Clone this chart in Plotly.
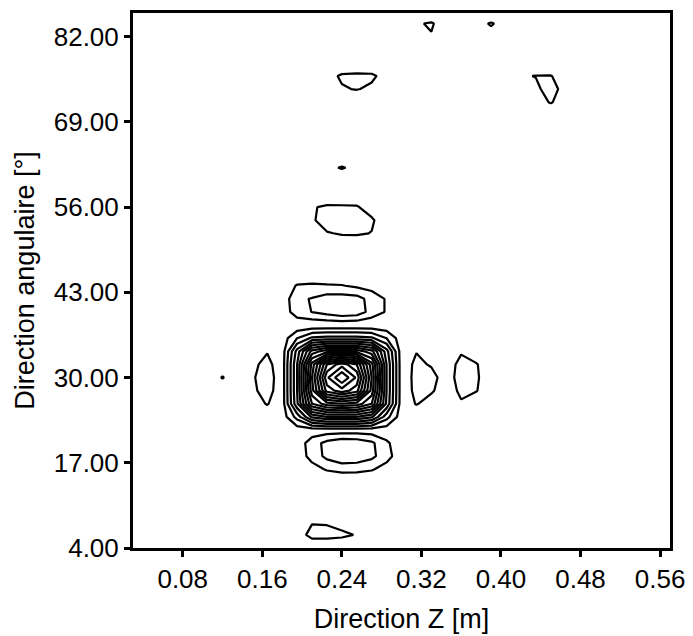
import plotly.graph_objects as go

# Grid coordinates (Direction Z [m], Direction angulaire [deg])
x_grid = [0.030, 0.045, 0.060, 0.075, 0.090, 0.105, 0.120, 0.135, 0.150, 0.165,
          0.180, 0.195, 0.210, 0.225, 0.240, 0.255, 0.270, 0.285, 0.300,
          0.315, 0.330, 0.345, 0.360, 0.375, 0.390, 0.405, 0.420, 0.435, 0.450, 0.465,
          0.480, 0.495, 0.510, 0.525, 0.540, 0.555, 0.570]
y_grid = [4, 6, 8, 10, 12, 14, 16, 18, 20, 22, 24, 26, 28, 30, 32, 34, 36, 38, 40, 42,
          44, 46, 48, 50, 52, 54, 56, 58, 60, 62, 64, 66, 68, 70, 72, 74, 76, 78, 80, 82,
          84, 86]

ZR = "0 0 0 0 0 0 0 0 0 0 | 0 0 0 0 0 0 0 0 0 | 0 0 0 0 0 0 0 0 0 0 0 | 0 0 0 0 0 0 0"
# Intensity values (%) row by row, from y = 4 to y = 86
z_rows = [
    "0 0 0 0 0 0 0 0 0 0 | 0 0 0 0 1 1 0 0 0 | 0 0 0 0 0 0 0 0 0 0 0 | 0 0 0 0 0 0 0",
    "0 0 0 0 0 0 0 0 0 0 | 0 2 7 7 6 4.7 1 0 0 | 0 0 0 0 0 0 0 0 0 0 0 | 0 0 0 0 0 0 0",
    "0 0 0 0 0 0 0 0 0 0 | 0 2 4.5 4.3 3 2 0 0 0 | 0 0 0 0 0 0 0 0 0 0 0 | 0 0 0 0 0 0 0",
    ZR,
    ZR,
    ZR,
    "0 0 0 0 0 0 0 0 0 0 | 0 1 3 5.5 6.7 6.5 5.5 3 1 | 0 0 0 0 0 0 0 0 0 0 0 | 0 0 0 0 0 0 0",
    "0 0 0 0 0 0 0 0 0 0 | 0 2 6.8 11.4 14 13.5 11.3 6.8 2 | 0 0 0 0 0 0 0 0 0 0 0 | 0 0 0 0 0 0 0",
    "0 0 0 0 0 0 0 0 0 0 | 0 2 7.5 11.6 13.8 13.3 11 5.8 2 | 0 0 0 0 0 0 0 0 0 0 0 | 0 0 0 0 0 0 0",
    "0 0 0 0 0 0 0 0 0 0 | 1 2 2 2 2 2 2 2 1 | 0 0 0 0 0 0 0 0 0 0 0 | 0 0 0 0 0 0 0",
    "0 0 0 0 0 0 0 0 0 2 | 2 12 26 30 30 30 26 12 2 | 1.5 0 0 0 0 0 0 0 0 0 0 | 0 0 0 0 0 0 0",
    "0 0 0 0 0 0 0 0 3 5.3 | 2 24 50 58 60 58 50 24 2 | 5.3 3 2.5 4.5 2 0 0 0 0 0 0 | 0 0 0 0 0 0 0",
    "0 0 0 0 0 0 2 0 4 7 | 2 25 58 82 88 82 58 25 2 | 6.3 5.6 2.5 6 5.3 2 0 0 0 0 0 | 0 0 0 0 0 0 0",
    "0 0 0 0 0 2 5.3 2 4.4 7.5 | 2 25 60 89 100 89 60 25 2 | 6.5 6.8 2.5 7.2 5.75 2 0 0 0 0 0 | 0 0 0 0 0 0 0",
    "0 0 0 0 0 0 2 0 3.9 6.5 | 2 25 57 80 88 80 57 25 2 | 6.2 4.5 2.5 6.5 5.4 2 0 0 0 0 0 | 0 0 0 0 0 0 0",
    "0 0 0 0 0 0 0 0 2 4.7 | 2 22 42 48 48 48 42 22 2 | 4.8 2 2 4.5 2 0 0 0 0 0 0 | 0 0 0 0 0 0 0",
    "0 0 0 0 0 0 0 0 0 2 | 2 10 16 17 17 17 16 10 2 | 0 0 0 0 0 0 0 0 0 0 0 | 0 0 0 0 0 0 0",
    "0 0 0 0 0 0 0 0 0 0 | 1 1 1 1 1 1 1 1 1 | 0 0 0 0 0 0 0 0 0 0 0 | 0 0 0 0 0 0 0",
    "0 0 0 0 0 0 0 0 0 0 | 1.5 8 10.1 12 14 13 8 4.5 1 | 0 0 0 0 0 0 0 0 0 0 0 | 0 0 0 0 0 0 0",
    "0 0 0 0 0 0 0 0 0 0 | 1.5 9 10.3 12.4 12.5 12 8 4.5 1 | 0 0 0 0 0 0 0 0 0 0 0 | 0 0 0 0 0 0 0",
    "0 0 0 0 0 0 0 0 0 0 | 1 5.5 6 5.6 5.3 4 3 1.5 0 | 0 0 0 0 0 0 0 0 0 0 0 | 0 0 0 0 0 0 0",
    ZR,
    ZR,
    ZR,
    "0 0 0 0 0 0 0 0 0 0 | 0 0 2 4.5 5.7 5.8 4.8 1 0 | 0 0 0 0 0 0 0 0 0 0 0 | 0 0 0 0 0 0 0",
    "0 0 0 0 0 0 0 0 0 0 | 0 0 4 8.3 9 8 5.9 1 0 | 0 0 0 0 0 0 0 0 0 0 0 | 0 0 0 0 0 0 0",
    "0 0 0 0 0 0 0 0 0 0 | 0 0 4.5 5.9 5.8 5.6 2 0 0 | 0 0 0 0 0 0 0 0 0 0 0 | 0 0 0 0 0 0 0",
    ZR,
    ZR,
    "0 0 0 0 0 0 0 0 0 0 | 0 0 0 3.5 5.5 3.5 0 0 0 | 0 0 0 0 0 0 0 0 0 0 0 | 0 0 0 0 0 0 0",
    ZR,
    ZR,
    ZR,
    ZR,
    "0 0 0 0 0 0 0 0 0 0 | 0 0 0 0 0 0 0 0 0 | 0 0 0 0 0 0 0 0 2 5.5 2 | 0 0 0 0 0 0 0",
    "0 0 0 0 0 0 0 0 0 0 | 0 0 0 1 4.5 5.3 4 0 0 | 0 0 0 0 0 0 0 2 4 7 3 | 0 0 0 0 0 0 0",
    "0 0 0 0 0 0 0 0 0 0 | 0 0 0 3 5.8 6.2 6 3 0 | 0 0 0 0 0 0 0 4.5 5.15 5.2 3 | 0 0 0 0 0 0 0",
    ZR,
    ZR,
    "0 0 0 0 0 0 0 0 0 0 | 0 0 0 0 0 0 0 0 0 | 2 4.7 2 0 0 3.5 0 0 0 0 0 | 0 0 0 0 0 0 0",
    "0 0 0 0 0 0 0 0 0 0 | 0 0 0 0 0 0 0 0 0 | 4.5 5.5 2.6 0 3.5 5.4 3.5 0 0 0 0 | 0 0 0 0 0 0 0",
    ZR,
]

x_ticks = [0.08, 0.16, 0.24, 0.32, 0.40, 0.48, 0.56]
y_ticks = [4, 17, 30, 43, 56, 69, 82]


def parse(row):
    vals = [float(v) for v in row.replace("|", " ").split()]
    assert len(vals) == len(x_grid), len(vals)
    return vals


Z = [parse(r) for r in z_rows]
assert len(Z) == len(y_grid)

FONT = "Liberation Sans, Arial, Helvetica, sans-serif"

fig = go.Figure(
    go.Contour(
        x=x_grid,
        y=y_grid,
        z=Z,
        contours=dict(start=5, end=95, size=5, coloring="none", showlines=True),
        line=dict(color="black", width=2.2, smoothing=0),
        showscale=False,
        hoverinfo="skip",
    )
)

axis_common = dict(
    showline=True,
    linewidth=3,
    linecolor="black",
    mirror=True,
    ticks="outside",
    ticklen=6,
    tickwidth=3,
    tickcolor="black",
    showgrid=False,
    zeroline=False,
    tickformat=".2f",
    tickfont=dict(family=FONT, size=26, color="black"),
)

fig.update_layout(
    width=685,
    height=628,
    margin=dict(l=125, r=23, t=2, b=88),
    paper_bgcolor="white",
    plot_bgcolor="white",
    font=dict(family=FONT, size=26, color="black"),
    xaxis=dict(
        range=[0.03, 0.57],
        tickvals=x_ticks,
        title=dict(text="Direction Z [m]", font=dict(family=FONT, size=27), standoff=16),
        **axis_common,
    ),
    yaxis=dict(
        range=[4, 85.6],
        tickvals=y_ticks,
        title=dict(text="Direction angulaire [°]", font=dict(family=FONT, size=27), standoff=12),
        **axis_common,
    ),
    showlegend=False,
)

fig.write_html("out.html")
